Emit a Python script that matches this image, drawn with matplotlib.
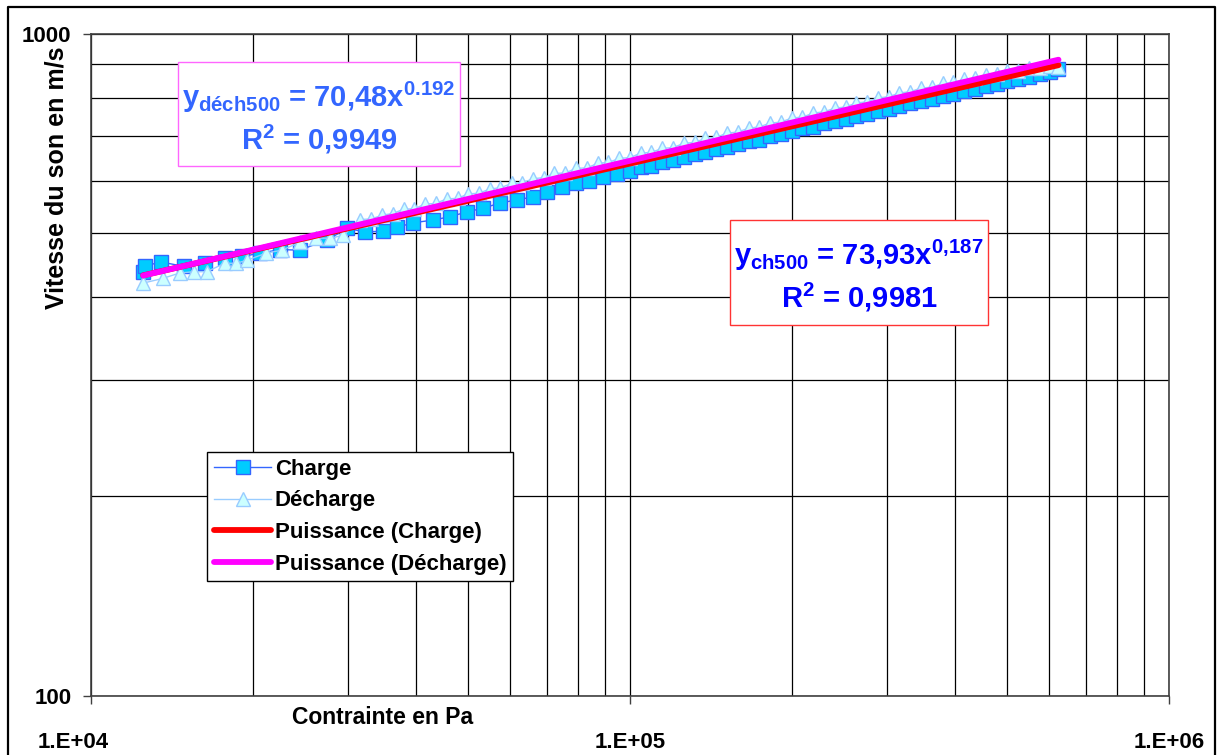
import matplotlib.pyplot as plt
from matplotlib.lines import Line2D
from matplotlib.patches import Rectangle
from matplotlib.ticker import NullFormatter
from matplotlib.transforms import ScaledTranslation
import numpy as np

plt.rcParams['font.family'] = ['Liberation Sans', 'DejaVu Sans']
plt.rcParams['font.weight'] = 'bold'
plt.rcParams['mathtext.fontset'] = 'custom'
plt.rcParams['mathtext.rm'] = 'Liberation Sans:bold'
plt.rcParams['mathtext.it'] = 'Liberation Sans:bold'
plt.rcParams['mathtext.bf'] = 'Liberation Sans:bold'

# Charge series (stress in Pa, sound speed in m/s)
charge_x = [12500, 12600, 13500, 14900, 16300, 17700, 19100, 20600, 22400, 24400,
            27400, 29900, 32200, 34800, 37000, 39600, 43100, 46300, 49800, 53400,
            57400, 61700, 66100, 70200, 74800, 79400, 84100, 89100, 94400, 100000,
            104700, 109600, 114800, 120200, 125900, 131800, 138000, 144500, 151400, 158500,
            166000, 173800, 182000, 190500, 199500, 208900, 218800, 229100, 239900, 251200,
            263000, 275400, 288400, 302000, 316200, 331100, 346700, 363100, 380200, 398100,
            416900, 436500, 457100, 478600, 501200, 524800, 549500, 575400, 602600, 623700]
charge_y = [437, 446, 452, 445, 450, 459, 461, 466, 472, 471,
            488, 508, 502, 503, 510, 518, 523, 529, 538, 545,
            555, 561, 567, 577, 586, 594, 600, 608, 613, 621,
            628, 632, 640, 644, 651, 658, 662, 670, 674, 681,
            688, 692, 700, 705, 712, 720, 724, 732, 737, 744,
            752, 756, 764, 770, 777, 785, 790, 798, 804, 812,
            820, 825, 833, 839, 848, 855, 861, 870, 876, 883]

# Decharge series
dech_x = [12500, 13600, 14600, 15500, 16400, 17700, 18600, 19500, 21100, 22600,
          24400, 26100, 27800, 29400, 31600, 33100, 34700, 36300, 38000, 39800,
          41700, 43600, 45700, 47900, 50100, 52500, 55000, 57500, 60300, 63100,
          66100, 69200, 72400, 75900, 79400, 83200, 87100, 91200, 95500, 100000,
          104700, 109600, 114800, 120200, 125900, 131800, 138000, 144500, 151400, 158500,
          166000, 173800, 182000, 190500, 199500, 208900, 218800, 229100, 239900, 251200,
          263000, 275400, 288400, 302000, 316200, 331100, 346700, 363100, 380200, 398100,
          416900, 436500, 457100, 478600, 501200, 524800, 549500, 575400, 602600, 623700]
dech_y = [420, 427, 435, 437, 437, 450, 450, 455, 466, 471,
          484, 491, 491, 496, 524, 525, 532, 535, 543, 544,
          553, 554, 563, 564, 573, 574, 583, 585, 594, 595,
          604, 606, 615, 616, 626, 627, 637, 639, 648, 650,
          660, 662, 671, 673, 683, 685, 695, 697, 708, 710,
          720, 723, 733, 735, 746, 748, 759, 762, 772, 775,
          786, 789, 800, 803, 814, 817, 828, 830, 841, 844,
          854, 856, 866, 868, 877, 879, 887, 889, 893, 890]

# Power trendlines shown on the chart
ch_a, ch_b = 73.93, 0.187
de_a, de_b = 70.48, 0.192
fit_x = np.array([12500, 623700])

fig = plt.figure(figsize=(12.18, 7.55), dpi=100)
ax = fig.add_axes([91 / 1218, 1 - 695.7 / 755, (1169 - 91) / 1218, (695.7 - 33.7) / 755])

ax.plot(charge_x, charge_y, color='#3366FF', lw=1, marker='s', ms=9.5,
        mfc='#00CCFF', mec='#3366FF', mew=1, label='Charge', zorder=3)
ax.plot(dech_x, dech_y, color='#99CCFF', lw=1, marker='^', ms=10,
        mfc='#CCFFFF', mec='#99CCFF', mew=1, label='Décharge', zorder=3)
ax.plot(fit_x, ch_a * fit_x ** ch_b, color='#FF0000', lw=4.2,
        solid_capstyle='round', label='Puissance (Charge)', zorder=4)
ax.plot(fit_x, de_a * fit_x ** de_b, color='#FF00FF', lw=4.2,
        solid_capstyle='round', label='Puissance (Décharge)', zorder=5)

ax.set_xscale('log')
ax.set_yscale('log')
ax.set_xlim(1e4, 1e6)
ax.set_ylim(100, 1000)
ax.set_xticks([1e4, 1e5, 1e6], ['1.E+04', '1.E+05', '1.E+06'])
ax.set_yticks([100, 1000], ['100', '1000'])
ax.xaxis.set_minor_formatter(NullFormatter())
ax.yaxis.set_minor_formatter(NullFormatter())
ax.tick_params(axis='both', which='major', labelsize=16, direction='out',
               length=6, width=1, color='#404040')
ax.tick_params(axis='x', which='major', pad=20)
ax.tick_params(axis='y', which='major', pad=8)
ax.tick_params(which='minor', length=0)
ax.grid(True, which='both', color='black', lw=0.9)
ax.set_axisbelow(True)
for s in ax.spines.values():
    s.set_color('#404040')
    s.set_linewidth(1.2)

# first x label sits a little left of its tick, as in the original
first = ax.get_xticklabels()[0]
first.set_transform(first.get_transform() + ScaledTranslation(-18 / 100, 0, fig.dpi_scale_trans))

fig.text(383 / 1218, 1 - 718 / 755, 'Contrainte en Pa', fontsize=16.5,
         fontweight='bold', ha='center', va='center')
fig.text(57 / 1218, 1 - 178 / 755, 'Vitesse du son en m/s', fontsize=18,
         fontweight='bold', ha='center', va='center', rotation=90)

# equation boxes
def eq_box(x0, y0, x1, y1, edge, color, line1, line2, size):
    fig.add_artist(Rectangle((x0 / 1218, 1 - y1 / 755), (x1 - x0) / 1218, (y1 - y0) / 755,
                             transform=fig.transFigure, fc='white', ec=edge, lw=1, zorder=6))
    cx = (x0 + x1) / 2 / 1218
    fig.text(cx, 1 - (y0 + 0.34 * (y1 - y0)) / 755, line1, fontsize=size, color=color,
             ha='center', va='center', zorder=7)
    fig.text(cx, 1 - (y0 + 0.74 * (y1 - y0)) / 755, line2, fontsize=size, color=color,
             ha='center', va='center', zorder=7)

eq_box(178, 62, 460, 166, '#FF66FF', '#3366FF',
       r'$y_{déch500}$ = 70,48x$^{0.192}$', r'R$^2$ = 0,9949', 21)
eq_box(730, 220, 988, 325, '#FF3333', '#0000FF',
       r'$y_{ch500}$ = 73,93x$^{0{,}187}$', r'R$^2$ = 0,9981', 21)

leg = ax.legend(loc='upper left', bbox_to_anchor=(207 / 1218, 1 - 452 / 755),
                bbox_transform=fig.transFigure, borderaxespad=0, fancybox=False,
                framealpha=1, edgecolor='black', prop={'size': 16, 'weight': 'bold'},
                labelspacing=0.48, handlelength=2.6, handletextpad=0.15,
                borderpad=0.3)
leg.get_frame().set_linewidth(1)
leg.set_zorder(8)

# outer frame of the picture
fig.add_artist(Line2D([8 / 1218, 8 / 1218, 1215 / 1218, 1215 / 1218],
                      [-0.01, 1 - 7 / 755, 1 - 7 / 755, -0.01],
                      transform=fig.transFigure, color='black', lw=1.6))

fig.savefig('out.png', dpi=100)
